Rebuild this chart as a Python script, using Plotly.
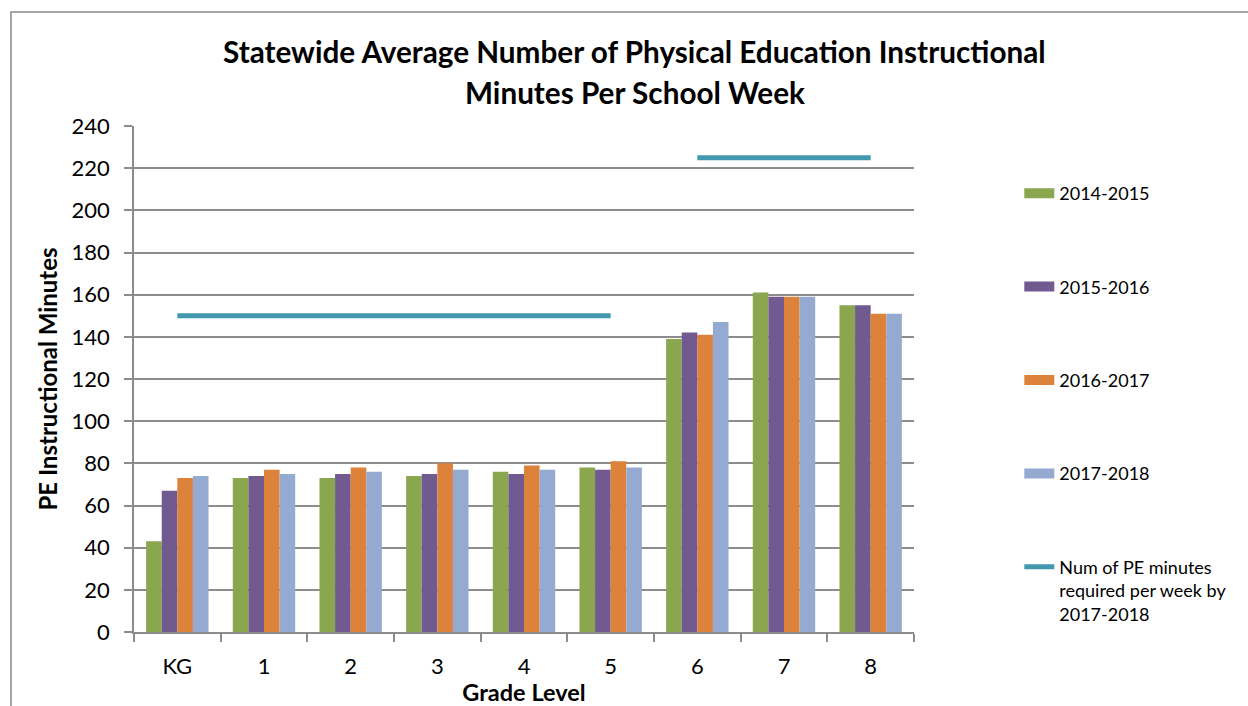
import plotly.graph_objects as go

grades = ["KG", "1", "2", "3", "4", "5", "6", "7", "8"]
y2014_2015 = [43, 73, 73, 74, 76, 78, 139, 161, 155]
y2015_2016 = [67, 74, 75, 75, 75, 77, 142, 159, 155]
y2016_2017 = [73, 77, 78, 80, 79, 81, 141, 159, 151]
y2017_2018 = [74, 75, 76, 77, 77, 78, 147, 159, 151]
required = [150, 150, 150, 150, 150, 150, 225, 225, 225]

series_names = ["2014-2015", "2015-2016", "2016-2017", "2017-2018"]
series_vals = [y2014_2015, y2015_2016, y2016_2017, y2017_2018]
series_colors = ["#8AA64E", "#715A8F", "#DD823B", "#95AAD1"]
line_name = "Num of PE minutes<br>required per week by<br>2017-2018"
line_color = "#4198AF"
title_lines = ["Statewide Average Number of Physical Education Instructional",
               "Minutes Per School Week"]

FONT = "Lato"
W, H = 1248, 706
L, R, T, B = 134, 334, 126, 74
PW, PH = W - L - R, H - T - B

fig = go.Figure()
for name, vals, col in zip(series_names, series_vals, series_colors):
    fig.add_trace(go.Bar(x=grades, y=vals, name=name, marker_color=col,
                         marker_line_width=0, showlegend=False))
# legend proxies (wide swatches)
for i, (name, col) in enumerate(zip(series_names, series_colors)):
    fig.add_trace(go.Scatter(x=[None], y=[None], mode="lines", name=name,
                             line=dict(color=col, width=10), legendgroup=f"g{i}"))

# required line: split into constant segments
lx, ly = [], []
for i, (g, v) in enumerate(zip(grades, required)):
    if i > 0 and v != required[i - 1]:
        lx.append(None); ly.append(None)
    lx.append(g); ly.append(v)
fig.add_trace(go.Scatter(x=lx, y=ly, mode="lines", name=line_name,
                         line=dict(color=line_color, width=5), connectgaps=False,
                         legendgroup="g4"))

title_ann = []
for txt, yc in zip(title_lines, [52, 93]):
    title_ann.append(dict(
        text=f"<b>{txt}</b>", xref="paper", yref="paper",
        x=(634.5 - L) / PW, y=(H - B - yc) / PH,
        xanchor="center", yanchor="middle", showarrow=False,
        font=dict(family=FONT, size=29.7, color="black")))

grid = "#8C8C8C"
fig.update_layout(
    width=W, height=H,
    margin=dict(l=L, r=R, t=T, b=B, autoexpand=False),
    paper_bgcolor="white", plot_bgcolor="white",
    font=dict(family=FONT, color="black", size=22),
    barmode="group", bargap=0.28, bargroupgap=0,
    showlegend=True,
    legend=dict(x=1.135, y=(H - B - 175) / PH, xanchor="left", yanchor="top",
                font=dict(family=FONT, size=18, color="black"),
                tracegroupgap=67, valign="top", bgcolor="rgba(0,0,0,0)"),
    annotations=title_ann,
    shapes=[dict(type="rect", xref="paper", yref="paper",
                 x0=(11 - L) / PW, x1=(W + 20 - L) / PW,
                 y0=(H - B - (H + 20)) / PH, y1=(H - B - 12) / PH,
                 line=dict(color="#888888", width=1.5), layer="below")],
)
fig.update_xaxes(type="category", showgrid=False, showline=True, linecolor=grid, linewidth=1.5,
                 ticks="outside", tickson="boundaries", ticklen=8, tickcolor=grid, tickwidth=1.5,
                 ticklabelstandoff=14, automargin=False,
                 title=dict(text="<b>Grade Level</b>", font=dict(family=FONT, size=23.5), standoff=4))
fig.update_yaxes(range=[0, 240], dtick=20, showgrid=True, gridcolor=grid, gridwidth=1.5,
                 showline=True, linecolor=grid, linewidth=1.5, zeroline=False,
                 ticks="outside", ticklen=8, tickcolor=grid, tickwidth=1.5,
                 ticklabelstandoff=10, automargin=False,
                 title=dict(text="<b>PE Instructional Minutes</b>", font=dict(family=FONT, size=24), standoff=7))
fig.write_html("out.html")
